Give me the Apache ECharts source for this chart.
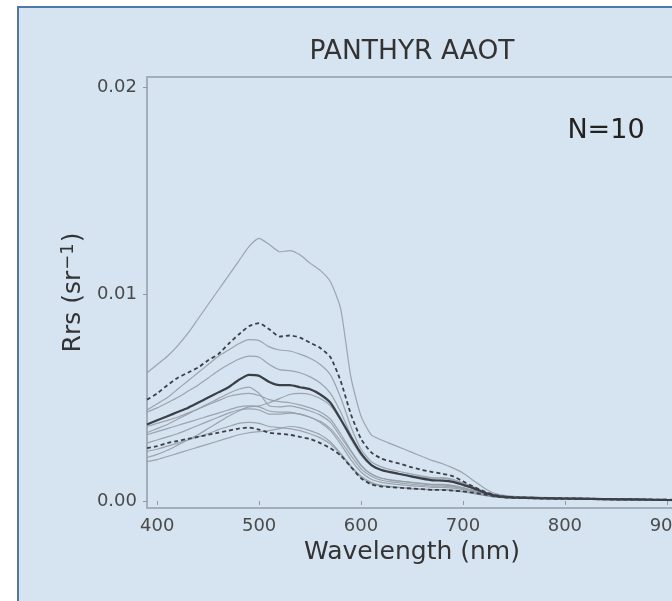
<!DOCTYPE html>
<html>
<head>
<meta charset="utf-8">
<script src="https://cdn.jsdelivr.net/npm/echarts@6/dist/echarts.min.js"></script>
<style>
  html, body { margin: 0; padding: 0; background: #fff; width: 672px; height: 601px; overflow: hidden; }
  #frame { position: absolute; left: 17px; top: 6px; width: 800px; height: 700px; box-sizing: border-box;
           border: 2px solid #4f78aa; background: #d6e3f0; }
  #chart { position: absolute; left: 0; top: 0; width: 720px; height: 601px; }
</style>
</head>
<body>
<div id="frame"></div>
<div id="chart"></div>
<script>
// wavelengths (nm)
const wavelengths = [390,400,410,420,430,440,450,460,470,480,490,500,510,520,530,540,550,560,570,580,
  590,600,610,620,630,640,650,660,670,680,690,700,710,720,730,740,750,775,800,825,850,875,900,925];

// Rrs values in units of 1e-3 sr^-1
const UNIT = 1e-3;

// individual spectra (N=10)
const spec1 = [6.2,6.6,7.0,7.5,8.1,8.8,9.5,10.2,10.9,11.6,12.3,12.7,12.4,12.05,12.1,11.9,11.5,11.15,10.6,9.3,
  6.0,4.1,3.2,2.95,2.75,2.55,2.35,2.15,1.95,1.8,1.6,1.35,1.0,0.65,0.38,0.27,0.22,0.18,0.15,0.13,0.11,0.09,0.07,0.06];
const spec2 = [4.4,4.7,5.0,5.4,5.8,6.2,6.6,7.0,7.3,7.6,7.8,7.75,7.45,7.3,7.25,7.1,6.9,6.6,6.1,5.0,
  3.6,2.5,1.9,1.65,1.5,1.4,1.3,1.2,1.12,1.1,1.0,0.85,0.65,0.45,0.28,0.21,0.18,0.15,0.13,0.11,0.09,0.08,0.06,0.05];
const spec3 = [4.3,4.5,4.75,5.0,5.3,5.6,5.95,6.3,6.6,6.85,7.0,6.95,6.6,6.35,6.3,6.2,6.0,5.7,5.2,4.3,
  3.2,2.3,1.75,1.5,1.4,1.3,1.2,1.1,1.02,1.0,0.92,0.78,0.6,0.42,0.27,0.2,0.17,0.14,0.12,0.1,0.08,0.07,0.05,0.04];
const spec4 = [3.3,3.5,3.7,3.95,4.2,4.45,4.7,4.95,5.2,5.4,5.5,5.2,4.6,4.55,4.6,4.5,4.35,4.15,3.8,3.1,
  2.4,1.7,1.3,1.1,1.0,0.95,0.9,0.85,0.8,0.8,0.75,0.65,0.52,0.37,0.25,0.19,0.16,0.13,0.11,0.09,0.08,0.07,0.05,0.04];
const spec5 = [2.1,2.25,2.45,2.7,2.95,3.2,3.5,3.8,4.1,4.35,4.55,4.6,4.75,4.95,5.15,5.2,5.15,4.95,4.6,3.9,
  3.0,2.2,1.7,1.5,1.4,1.3,1.22,1.15,1.1,1.12,1.05,0.88,0.68,0.46,0.3,0.22,0.19,0.16,0.14,0.12,0.1,0.08,0.06,0.05];
const spec6 = [3.2,3.35,3.5,3.65,3.8,3.95,4.1,4.25,4.4,4.55,4.6,4.55,4.35,4.3,4.3,4.2,4.05,3.85,3.5,2.9,
  2.2,1.55,1.2,1.0,0.92,0.86,0.8,0.76,0.72,0.72,0.68,0.6,0.48,0.34,0.24,0.18,0.15,0.12,0.1,0.09,0.07,0.06,0.05,0.04];
const spec7 = [2.8,2.95,3.1,3.25,3.45,3.65,3.85,4.05,4.25,4.4,4.45,4.4,4.2,4.2,4.25,4.2,4.05,3.8,3.4,2.75,
  2.0,1.4,1.05,0.9,0.83,0.78,0.73,0.7,0.66,0.66,0.62,0.55,0.44,0.32,0.22,0.17,0.14,0.12,0.1,0.08,0.07,0.06,0.04,0.03];
const spec8 = [2.4,2.5,2.65,2.8,2.95,3.1,3.25,3.45,3.6,3.75,3.8,3.75,3.6,3.55,3.5,3.4,3.25,3.05,2.75,2.25,
  1.65,1.15,0.85,0.73,0.68,0.64,0.6,0.57,0.55,0.55,0.52,0.46,0.38,0.28,0.2,0.16,0.13,0.11,0.09,0.08,0.06,0.05,0.04,0.03];
const spec9 = [1.9,2.0,2.15,2.3,2.45,2.6,2.75,2.9,3.05,3.2,3.3,3.35,3.4,3.5,3.6,3.55,3.4,3.2,2.85,2.3,
  1.7,1.2,0.9,0.75,0.7,0.65,0.6,0.56,0.54,0.55,0.5,0.44,0.37,0.28,0.2,0.16,0.13,0.11,0.09,0.07,0.06,0.05,0.04,0.03];
const spec10 = [3.6,3.75,3.9,4.05,4.25,4.45,4.65,4.85,5.05,5.15,5.2,5.1,4.9,4.8,4.75,4.65,4.5,4.3,3.95,3.25,
  2.45,1.75,1.3,1.1,1.02,0.95,0.88,0.83,0.78,0.78,0.72,0.63,0.5,0.36,0.24,0.18,0.15,0.13,0.11,0.09,0.08,0.06,0.05,0.04];

// mean and mean +/- std
const meanRrs = [3.7,3.9,4.1,4.3,4.5,4.75,5.0,5.25,5.5,5.85,6.1,6.05,5.75,5.6,5.6,5.5,5.4,5.15,4.75,3.95,
  3.1,2.3,1.75,1.5,1.38,1.28,1.18,1.08,1.0,0.98,0.92,0.78,0.62,0.42,0.27,0.2,0.17,0.14,0.12,0.1,0.08,0.07,0.05,0.04];
const upperRrs = [4.9,5.2,5.6,5.95,6.2,6.45,6.8,7.1,7.6,8.05,8.45,8.6,8.3,7.95,8.0,7.9,7.65,7.4,6.95,5.8,
  4.2,3.0,2.35,2.05,1.9,1.78,1.62,1.5,1.4,1.32,1.2,0.95,0.7,0.48,0.3,0.22,0.18,0.15,0.13,0.11,0.09,0.08,0.06,0.05];
const lowerRrs = [2.55,2.65,2.8,2.9,3.0,3.1,3.2,3.3,3.4,3.5,3.55,3.45,3.3,3.25,3.2,3.1,3.0,2.8,2.55,2.2,
  1.65,1.1,0.8,0.7,0.66,0.63,0.6,0.57,0.54,0.53,0.5,0.46,0.4,0.32,0.23,0.18,0.15,0.12,0.1,0.09,0.07,0.06,0.04,0.03];

const xTicks = [400, 500, 600, 700, 800, 900];
const yTicks = [0, 0.01, 0.02];

const spectra = [spec1, spec2, spec3, spec4, spec5, spec6, spec7, spec8, spec9, spec10];
const FONT = 'DejaVu Sans';

function pairs(vals) {
  return wavelengths.map((w, i) => [w, vals[i] * UNIT]);
}

const series = spectra.map(s => ({
  type: 'line', data: pairs(s), showSymbol: false, silent: true, smooth: 0.2,
  lineStyle: { color: '#939da8', width: 1.2, opacity: 0.9 }
}));
series.push({
  type: 'line', data: pairs(meanRrs), showSymbol: false, silent: true, smooth: 0.2, z: 4,
  lineStyle: { color: '#3b4048', width: 2.2 }
});
[upperRrs, lowerRrs].forEach(s => series.push({
  type: 'line', data: pairs(s), showSymbol: false, silent: true, smooth: 0.2, z: 4,
  lineStyle: { color: '#3b4048', width: 1.8, type: [4, 3] }
}));

const chart = echarts.init(document.getElementById('chart'), null, { renderer: 'canvas' });
chart.setOption({
  animation: false,
  backgroundColor: 'transparent',
  textStyle: { fontFamily: FONT },
  grid: { left: 147, top: 77, width: 530, height: 431, show: true,
          borderColor: '#a3aebb', borderWidth: 2, backgroundColor: 'transparent' },
  xAxis: {
    type: 'value', min: 390, max: 910,
    axisLine: { show: false },
    axisTick: { show: true, length: 4, customValues: xTicks, lineStyle: { color: '#8f98a3' } },
    axisLabel: { customValues: xTicks, color: '#4a4a4a', fontSize: 18, margin: 9, fontFamily: FONT },
    splitLine: { show: false },
    name: 'Wavelength (nm)', nameLocation: 'middle', nameGap: 32,
    nameTextStyle: { fontSize: 25, color: '#333', fontFamily: FONT }
  },
  yAxis: {
    type: 'value', min: -0.00034, max: 0.0205,
    axisLine: { show: false },
    axisTick: { show: true, length: 4, customValues: yTicks, lineStyle: { color: '#8f98a3' } },
    axisLabel: { customValues: yTicks, color: '#4a4a4a', fontSize: 18, margin: 10, fontFamily: FONT,
                 formatter: v => v.toFixed(2) },
    splitLine: { show: false },
    name: 'Rrs (sr{sup|−1})', nameLocation: 'middle', nameGap: 57,
    nameTextStyle: { fontSize: 25, color: '#333', fontFamily: FONT,
                     rich: { sup: { fontSize: 18, color: '#333', fontFamily: FONT, verticalAlign: 'top', padding: [0, 1, 10, 1] } } }
  },
  graphic: [
    { type: 'text', x: 412, y: 52, style: { text: 'PANTHYR AAOT', fontSize: 26.5, fill: '#333',
      fontFamily: FONT, align: 'center', verticalAlign: 'middle' } },
    { type: 'text', x: 606, y: 131, style: { text: 'N=10', fontSize: 27, fill: '#222',
      fontFamily: FONT, align: 'center', verticalAlign: 'middle' } }
  ],
  series: series
});
</script>
</body>
</html>
